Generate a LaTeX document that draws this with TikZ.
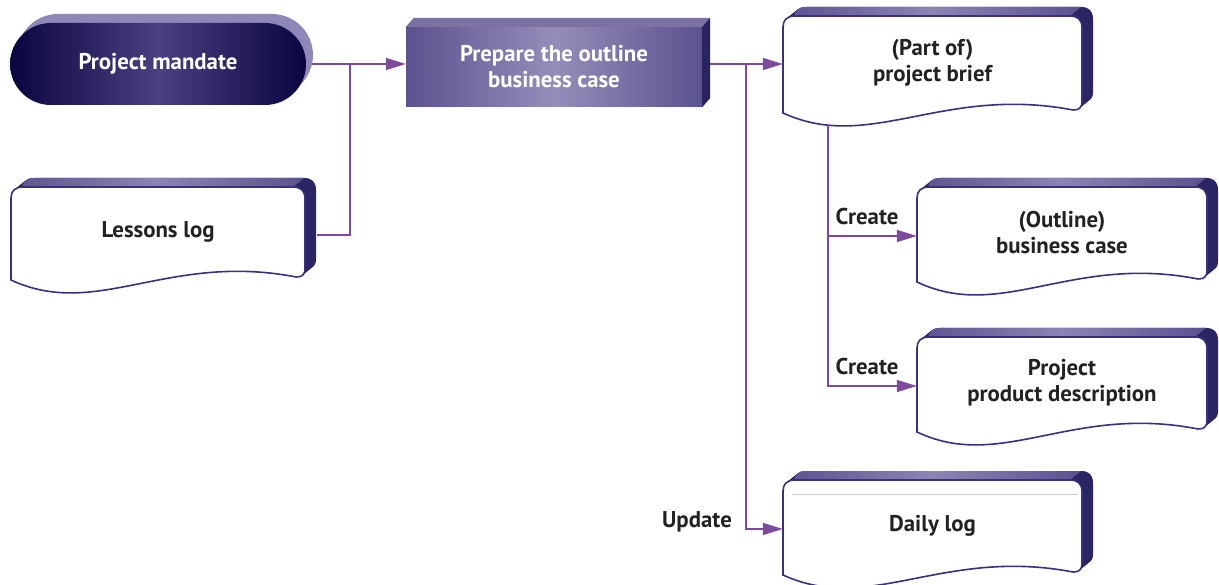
\documentclass[tikz,border=0pt]{standalone}
\usepackage{fontspec}
\setmainfont{PT Sans}
\usetikzlibrary{arrows.meta,calc}
\definecolor{dbdark}{HTML}{2B2563}
\definecolor{dbtopA}{HTML}{5B5190}
\definecolor{dbtopB}{HTML}{8C84B3}
\definecolor{dbline}{HTML}{3B3080}
\definecolor{conncol}{HTML}{7D4A9E}
\definecolor{pillA}{HTML}{0A0540}
\definecolor{pillB}{HTML}{4B4080}
\definecolor{pillrim}{HTML}{8F87B8}
\definecolor{prepA}{HTML}{5C528F}
\definecolor{prepB}{HTML}{958DB9}
\definecolor{preptop}{HTML}{7B72A2}
\definecolor{prepside}{HTML}{2A2361}
\definecolor{innerln}{HTML}{CFC8E2}
\definecolor{txt}{HTML}{222222}

\newcommand\docbody[1]{%
  \path[#1] (\dbL,\dbB) -- (\dbL,\dbT+11)
    .. controls (\dbL,\dbT+4) and (\dbL+4,\dbT) .. (\dbL+12,\dbT)
    -- (\dbR-12,\dbT)
    .. controls (\dbR-4,\dbT) and (\dbR,\dbT+4) .. (\dbR,\dbT+12)
    -- (\dbR,\dbB-12)
    .. controls (\dbR,\dbB-5) and (\dbR-3,\dbB-3) .. (\dbR-9,\dbB-3)
    .. controls (\dbL+0.55*\dbW,\dbB-28) and (\dbL+0.3*\dbW,\dbB+40) .. (\dbL,\dbB)
    -- cycle;}

\newcommand\docbox[6]{%
  \def\dbL{#2}\def\dbT{#3}\def\dbR{#4}\def\dbB{#5}%
  \pgfmathsetmacro\dbW{#4-#2-9}%
  \pgfmathsetmacro\dbWW{#4-#2}%
  \pgfmathsetmacro\dbH{#5+3-#3}%
  \foreach \s in {1,0.9,...,0.05} {\docbody{fill=dbdark, shift={(11*\s,-9*\s)}}}%
  \shade[left color=dbtopA, right color=dbtopA, middle color=dbtopB]
    (\dbL,\dbT+11) .. controls (\dbL,\dbT+4) and (\dbL+4,\dbT) .. (\dbL+12,\dbT)
    -- (\dbR-12,\dbT) -- (\dbR-1,\dbT-9) -- (\dbL+23,\dbT-9)
    .. controls (\dbL+15,\dbT-9) and (\dbL+11,\dbT-5) .. (\dbL+11,\dbT+2) -- cycle;
  \docbody{fill=white, draw=dbline, line width=1.6pt}%
  \node[inner sep=0, minimum width=\dbWW pt, minimum height=\dbH pt] (#1)
    at ({(#2+#4)/2},{(#3+#5+3)/2}) {};
  \node[doctext] (#1-t) at ([yshift=3pt]#1.center) {#6};
}

\begin{document}
\begin{tikzpicture}[x=1pt,y=-1pt,
  conn/.style={draw=conncol, line width=1.6pt, -{Triangle[length=20pt,width=12pt]}},
  link/.style={draw=conncol, line width=1.6pt},
  doctext/.style={text=txt, font=\bfseries\fontsize{22.8}{26}\selectfont, align=center, inner sep=0},
  lab/.style={text=txt, font=\bfseries\fontsize{22.8}{26}\selectfont, inner sep=0},
  whitetext/.style={text=white, font=\bfseries\fontsize{22.8}{26}\selectfont, align=center}]
\useasboundingbox (0,0) rectangle (1219,585);
\fill[white] (0,0) rectangle (1219,585);

% Project mandate pill
\fill[pillrim, rounded corners=41pt] (17,14) rectangle (313,96);
\node[whitetext, inner sep=0, minimum width=296pt, minimum height=82pt,
      rounded corners=41pt, left color=pillA, right color=pillA, middle color=pillB]
      (mandate) at (158,64) {Project mandate};

% Prepare box
\node[whitetext, inner sep=0, minimum width=296pt, minimum height=80pt,
      left color=prepA, right color=prepA, middle color=prepB]
      (prep) at (554,67) {Prepare the outline\\business case};
\fill[preptop] (prep.north west) -- ++(8,-9) -- ($(prep.north east)+(8,-9)$) -- (prep.north east) -- cycle;
\fill[prepside] (prep.north east) -- ++(8,-9) -- ($(prep.south east)+(8,-9)$) -- (prep.south east) -- cycle;

% Documents
\docbox{lessons}{11}{187}{305}{280}{Lessons log}
\docbox{brief}{783}{16}{1082}{113}{(Part of)\\project brief}
\docbox{outline}{917}{187}{1207}{282}{(Outline)\\business case}
\docbox{product}{917}{337}{1207}{432}{Project\\product description}
\docbox{daily}{783}{480}{1082}{575}{Daily log}
\draw[innerln, line width=1pt] (792,494) -- (1078,494);

% Connectors
\coordinate (j1) at (350,64);
\coordinate (j2) at (746,64);
\coordinate (j3) at (828,124);
\draw[conn] ($(mandate.east|-j1)+(6,0)$) -- (prep.west|-j1);
\draw[link] ($(lessons.east)+(12,0)$) -| (j1);
\draw[conn] ($(prep.east|-j2)+(8,0)$) -- (brief.west|-j2);
\draw[conn] (j2) |- (daily.west);
\draw[conn] (j3) |- (product.west);
\draw[conn] (j3|-outline.west) -- (outline.west);

% Labels
\node[lab] (create1) at (867,217) {Create};
\node[lab] (create2) at (867,367) {Create};
\node[lab] (update) at (697,522) {Update};
\end{tikzpicture}
\end{document}
